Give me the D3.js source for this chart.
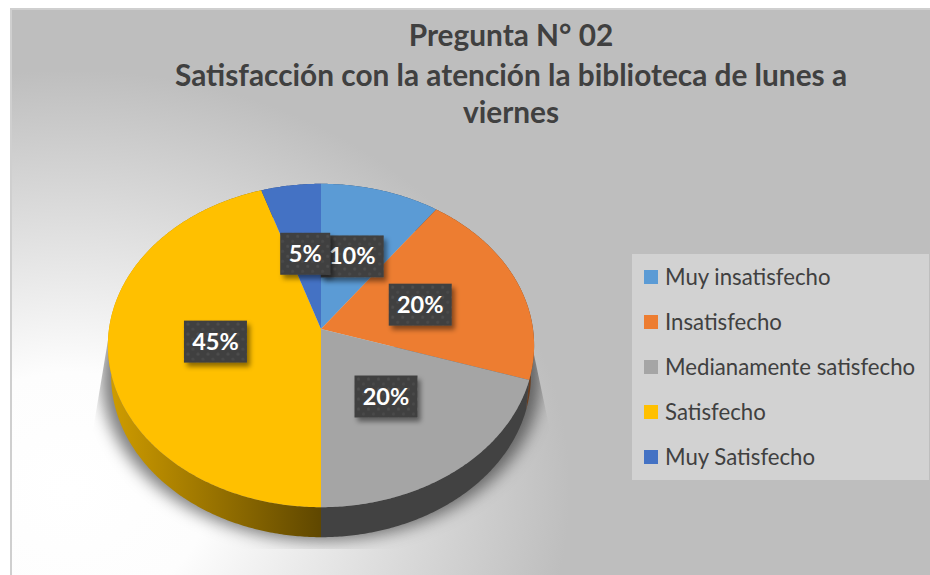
<!DOCTYPE html>
<html>
<head>
<meta charset="utf-8">
<style>
  html, body { margin: 0; padding: 0; background: white; overflow: hidden; }
  text { font-family: Lato, "Open Sans", sans-serif; }
</style>
<script src="https://d3js.org/d3.v7.min.js"></script>
</head>
<body>
<div id="chart"></div>
<script>
// data
var categories = ["Muy insatisfecho", "Insatisfecho", "Medianamente satisfecho", "Satisfecho", "Muy Satisfecho"];
var values = [10, 20, 20, 45, 5];
var colors = ["#5b9bd5", "#ed7d31", "#a5a5a5", "#ffc000", "#4472c4"];
var titleLines = ["Pregunta N° 02", "Satisfacción con la atención la biblioteca de lunes a", "viernes"];

var width = 930, height = 575;

var svg = d3.select("#chart").append("svg")
  .attr("width", width)
  .attr("height", height)
  .style("display", "block");

var defs = svg.append("defs");

// background, white in the lower left going to grey
var bg = defs.append("radialGradient")
  .attr("id", "bgGrad")
  .attr("gradientUnits", "userSpaceOnUse")
  .attr("cx", 0).attr("cy", 0).attr("r", 1)
  .attr("gradientTransform", "translate(70,490) scale(500,420)");
bg.append("stop").attr("offset", 0).attr("stop-color", "#ffffff");
bg.append("stop").attr("offset", 0.28).attr("stop-color", "#fdfdfd");
bg.append("stop").attr("offset", 1).attr("stop-color", "#bebebe");

// yellow side wall goes darker toward the middle
var sideYellow = defs.append("linearGradient")
  .attr("id", "sideYellow")
  .attr("gradientUnits", "userSpaceOnUse")
  .attr("x1", 108).attr("x2", 321).attr("y1", 0).attr("y2", 0);
sideYellow.append("stop").attr("offset", 0).attr("stop-color", "#d09d00");
sideYellow.append("stop").attr("offset", 1).attr("stop-color", "#5f4700");

var sideColors = ["#2f4d6b", "#6b3d1e", "#424242", "url(#sideYellow)", "#2a4577"];

defs.append("filter").attr("id", "blur")
  .attr("x", "-20%").attr("y", "-20%").attr("width", "140%").attr("height", "140%")
  .append("feGaussianBlur").attr("stdDeviation", 8);

var drop = defs.append("filter").attr("id", "drop")
  .attr("x", "-30%").attr("y", "-30%").attr("width", "170%").attr("height", "170%");
drop.append("feDropShadow")
  .attr("dx", 3).attr("dy", 4).attr("stdDeviation", 2.5)
  .attr("flood-color", "#000").attr("flood-opacity", 0.45);

// dotted fill of the data labels
var dots = defs.append("pattern").attr("id", "dots")
  .attr("patternUnits", "userSpaceOnUse")
  .attr("width", 10).attr("height", 10);
dots.append("rect").attr("width", 10).attr("height", 10).attr("fill", "#404040");
dots.append("circle").attr("cx", 2.5).attr("cy", 2.5).attr("r", 1.5).attr("fill", "#4f4f4f");
dots.append("circle").attr("cx", 7.5).attr("cy", 7.5).attr("r", 1.5).attr("fill", "#4a4a4a");

defs.append("clipPath").attr("id", "shadowClip")
  .append("path").attr("d", "M108,340L93,430L93,549L552,549L552,440L533,350Z");

// chart area
svg.append("rect")
  .attr("x", 11).attr("y", 9)
  .attr("width", width).attr("height", height)
  .attr("fill", "url(#bgGrad)")
  .attr("stroke", "#cfcfcf")
  .attr("stroke-width", 2);

// title
svg.append("g").selectAll("text")
  .data(titleLines)
  .enter()
  .append("text")
    .attr("x", 511)
    .attr("y", function(d, i) { return [46, 86, 123][i]; })
    .attr("text-anchor", "middle")
    .attr("font-size", 29.8)
    .attr("font-weight", "bold")
    .attr("fill", "#404040")
    .text(function(d) { return d; });

// tilted pie: apex is not in the middle of the ellipse, a small perspective
var cx = 321, cy = 329, rx = 212, ry = 160, persp = 0.102, depth = 30;

function project(angle, f) {
  var px = Math.sin(angle) * f, py = -Math.cos(angle) * f;
  var w = 1 - persp * py;
  return [cx + rx * px / w, cy + ry * py / w];
}

function rim(a0, a1) {
  var n = Math.max(2, Math.ceil((a1 - a0) / 0.01)), pts = [];
  for (var i = 0; i <= n; i++) pts.push(project(a0 + (a1 - a0) * i / n, 1));
  return pts;
}

// lower edge of the wall, pulled in a bit so it runs out at the sides
function lower(p) {
  return [cx + (p[0] - cx) * 0.985, p[1] + depth];
}

var line = d3.line();
var pie = d3.pie().sort(null).value(function(d) { return d; });
var slices = pie(values);

// shadow under the pie
svg.append("g").attr("clip-path", "url(#shadowClip)")
  .append("path")
    .attr("d", line(rim(0, 2 * Math.PI).map(function(p) {
      return [cx + (p[0] - cx) * 1.03, p[1] + depth + 3];
    })) + "Z")
    .attr("fill", "#000")
    .attr("fill-opacity", 0.5)
    .attr("filter", "url(#blur)");

// side walls
svg.append("g").selectAll("path")
  .data(slices)
  .enter()
  .append("path")
    .attr("d", function(d) {
      var top = rim(d.startAngle, d.endAngle);
      return line(top.concat(top.map(lower).reverse())) + "Z";
    })
    .attr("fill", function(d, i) { return sideColors[i]; });

// top faces
svg.append("g").selectAll("path")
  .data(slices)
  .enter()
  .append("path")
    .attr("d", function(d) {
      return line([[cx, cy]].concat(rim(d.startAngle, d.endAngle))) + "Z";
    })
    .attr("fill", function(d, i) { return colors[i]; });

// data labels
var labelW = 63, labelH = 42;
var labels = svg.append("g").selectAll("g")
  .data(slices)
  .enter()
  .append("g")
    .attr("transform", function(d) {
      var p = project((d.startAngle + d.endAngle) / 2, 0.5);
      return "translate(" + p[0] + "," + p[1] + ")";
    });

labels.append("rect")
  .attr("x", function(d) { return d.value === 5 ? -25 : -labelW / 2; })
  .attr("width", function(d) { return d.value === 5 ? 50 : labelW; })
  .attr("y", -labelH / 2)
  .attr("height", labelH)
  .attr("fill", "url(#dots)")
  .attr("filter", "url(#drop)");

labels.append("text")
  .attr("text-anchor", "middle")
  .attr("y", 8)
  .attr("font-size", 23.5)
  .attr("font-weight", "bold")
  .attr("fill", "white")
  .text(function(d) { return d.value + "%"; });

// legend
var legendY = d3.scalePoint().domain(categories).range([277, 457]);

svg.append("rect")
  .attr("x", 632).attr("y", 254)
  .attr("width", 297).attr("height", 226)
  .attr("fill", "#d2d2d2");

var legend = svg.append("g").selectAll("g")
  .data(categories)
  .enter()
  .append("g")
    .attr("transform", function(d) { return "translate(644," + legendY(d) + ")"; });

legend.append("rect")
  .attr("y", -7)
  .attr("width", 14).attr("height", 14)
  .attr("fill", function(d, i) { return colors[i]; });

legend.append("text")
  .attr("x", 21)
  .attr("y", 8)
  .attr("font-size", 22.2)
  .attr("fill", "#404040")
  .text(function(d) { return d; });
</script>
</body>
</html>
